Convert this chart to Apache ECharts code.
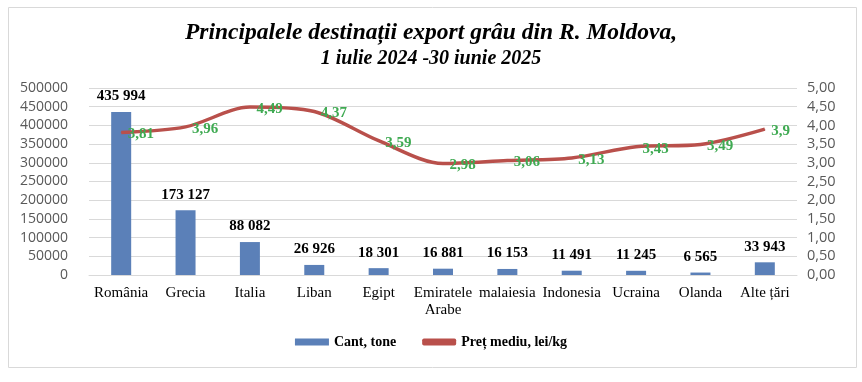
<!DOCTYPE html>
<html><head><meta charset="utf-8">
<script src="https://cdn.jsdelivr.net/npm/echarts@6/dist/echarts.min.js"></script>
<style>html,body{margin:0;padding:0;background:#fff}#c{width:862px;height:382px}</style>
</head><body><div id="c"></div>
<script>
const categories = ['România','Grecia','Italia','Liban','Egipt','Emiratele\nArabe','malaiesia','Indonesia','Ucraina','Olanda','Alte țări'];
const quantity = [435994,173127,88082,26926,18301,16881,16153,11491,11245,6565,33943];
const price = [3.81,3.96,4.49,4.37,3.59,2.98,3.06,3.13,3.43,3.49,3.9];
const priceLabels = ['3,81','3,96','4,49','4,37','3,59','2,98','3,06','3,13','3,43','3,49','3,9'];

function fmtThousands(v){return String(v).replace(/\B(?=(\d{3})+(?!\d))/g,' ');}

const chart = echarts.init(document.getElementById('c'));
const serif = '"Liberation Serif", "Times New Roman", serif';
const sans = '"Open Sans", "Liberation Sans", sans-serif';
chart.setOption({
  animation:false,
  title:{
    text:'Principalele destinații export grâu din R. Moldova,',
    subtext:'1 iulie 2024 -30 iunie 2025',
    left:'center', top:16, itemGap:5,
    textStyle:{fontFamily:serif,fontStyle:'italic',fontWeight:'bold',fontSize:23.5,color:'#000'},
    subtextStyle:{fontFamily:serif,fontStyle:'italic',fontWeight:'bold',fontSize:20,color:'#000'}
  },
  graphic:[{type:'rect',shape:{x:8.5,y:7.5,width:848,height:360},style:{fill:'none',stroke:'#d9d9d9',lineWidth:1},z:-1}],
  grid:{left:89,right:65,top:88,bottom:107},
  legend:{
    bottom:28,left:'center',itemGap:26,itemWidth:34,itemHeight:7,
    textStyle:{fontFamily:serif,fontWeight:'bold',fontSize:14,color:'#000'},
    data:[{name:'Cant, tone',icon:'rect'},{name:'Preț mediu, lei/kg',icon:'roundRect'}]
  },
  xAxis:{
    type:'category',data:categories,
    axisLine:{lineStyle:{color:'#d9d9d9'}},axisTick:{show:false},
    axisLabel:{fontFamily:serif,fontSize:15,color:'#000',interval:0,margin:10,lineHeight:17}
  },
  yAxis:[
    {type:'value',min:0,max:500000,interval:50000,
     axisLabel:{fontFamily:sans,fontSize:14,color:'#595959',margin:21,formatter:v=>String(v)},
     splitLine:{lineStyle:{color:'#d9d9d9'}},axisLine:{show:false},axisTick:{show:false}},
    {type:'value',min:0,max:5,interval:0.5,
     axisLabel:{fontFamily:sans,fontSize:14.5,color:'#595959',margin:10,formatter:v=>v.toFixed(2).replace('.',',')},
     splitLine:{show:false},axisLine:{show:false},axisTick:{show:false}}
  ],
  series:[
    {name:'Cant, tone',type:'bar',data:quantity,barWidth:20,itemStyle:{color:'#5B80B8'},
     label:{show:true,position:'top',distance:8,fontFamily:serif,fontWeight:'bold',fontSize:15,color:'#000',formatter:p=>fmtThousands(p.value)}},
    {name:'Preț mediu, lei/kg',type:'line',yAxisIndex:1,data:price,smooth:0.3,symbol:'circle',symbolSize:1,showSymbol:true,
     lineStyle:{color:'#B9504B',width:3.5},itemStyle:{color:'#B9504B'},
     label:{show:true,position:'right',distance:6,offset:[0,2],fontFamily:serif,fontWeight:'bold',fontSize:15,color:'#3FAA52',formatter:p=>priceLabels[p.dataIndex]}}
  ]
});
</script></body></html>
